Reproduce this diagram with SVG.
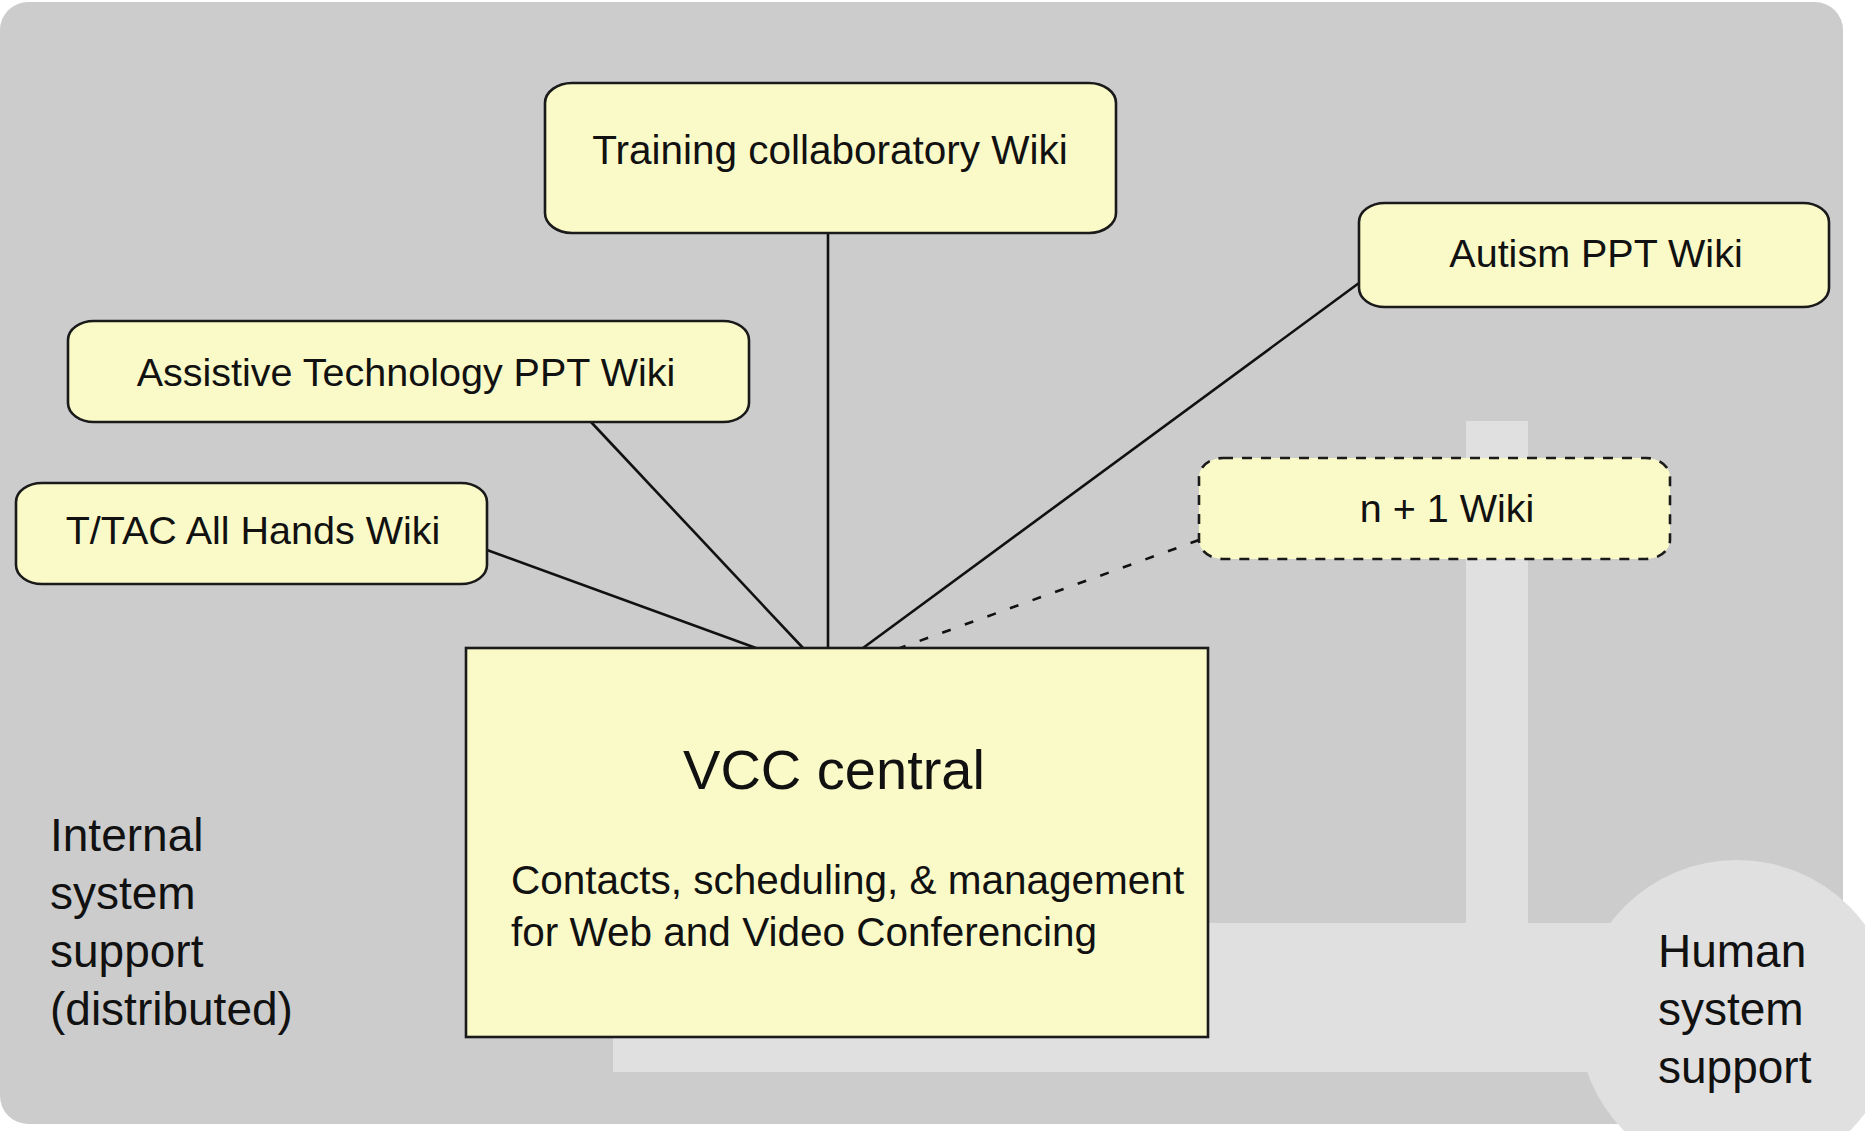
<svg xmlns="http://www.w3.org/2000/svg" width="1865" height="1131" viewBox="0 0 1865 1131">
  <style>
    .bg { fill: #cccccc; }
    .band { fill: #e0e0e0; }
    .wiki { fill: #fafac8; stroke: #1a1a1a; stroke-width: 2.6; }
    .wiki-new { fill: #fafac8; stroke: #1a1a1a; stroke-width: 2.6; stroke-dasharray: 10 9; }
    .central { fill: #fafac8; stroke: #1a1a1a; stroke-width: 2.6; }
    .link { stroke: #111111; stroke-width: 2.6; fill: none; }
    .link-planned { stroke: #111111; stroke-width: 2.6; fill: none; stroke-dasharray: 9 15; }
    text { font-family: "Liberation Sans", Arial, sans-serif; fill: #111111; }
    .label { font-size: 39.5px; text-anchor: middle; }
    .label-wide { font-size: 40.5px; text-anchor: middle; }
    .title { font-size: 56px; text-anchor: middle; }
    .desc { font-size: 40.5px; }
    .side { font-size: 46px; }
  </style>

  <!-- backdrop: internal system support area -->
  <rect class="bg" x="0" y="2" width="1843" height="1122" rx="28" ry="28"/>

  <!-- human support channels -->
  <g id="human-support">
    <rect class="band" x="1466" y="421" width="62" height="520"/>
    <rect class="band" x="613" y="923" width="1140" height="149"/>
    <circle class="band" cx="1737" cy="1019" r="159"/>
    <text class="side" x="1658" y="967">Human</text>
    <text class="side" x="1658" y="1025">system</text>
    <text class="side" x="1658" y="1083">support</text>
  </g>

  <g id="internal-support">
    <text class="side" x="50" y="851">Internal</text>
    <text class="side" x="50" y="909">system</text>
    <text class="side" x="50" y="967">support</text>
    <text class="side" x="50" y="1025">(distributed)</text>
  </g>

  <!-- links from each wiki to the central hub -->
  <g id="connectors">
    <line class="link" x1="828" y1="233" x2="828" y2="648"/>
    <line class="link" x1="591" y1="422" x2="803" y2="648"/>
    <line class="link" x1="487" y1="550" x2="756" y2="648"/>
    <line class="link" x1="1359" y1="283" x2="863" y2="648"/>
    <line class="link-planned" x1="1199" y1="540" x2="900" y2="648"/>
  </g>

  <g id="training-wiki">
    <rect class="wiki" x="545" y="83" width="571" height="150" rx="27" ry="20"/>
    <text class="label-wide" x="830" y="164">Training collaboratory Wiki</text>
  </g>

  <g id="autism-wiki">
    <rect class="wiki" x="1359" y="203" width="470" height="104" rx="26" ry="19"/>
    <text class="label" x="1596" y="267">Autism PPT Wiki</text>
  </g>

  <g id="assistive-wiki">
    <rect class="wiki" x="68" y="321" width="681" height="101" rx="26" ry="19"/>
    <text class="label" x="406" y="386">Assistive Technology PPT Wiki</text>
  </g>

  <g id="ttac-wiki">
    <rect class="wiki" x="16" y="483" width="471" height="101" rx="26" ry="19"/>
    <text class="label" x="253" y="544">T/TAC All Hands Wiki</text>
  </g>

  <g id="next-wiki">
    <rect class="wiki-new" x="1199" y="458" width="471" height="101" rx="24" ry="19"/>
    <text class="label" x="1447" y="522">n + 1 Wiki</text>
  </g>

  <g id="vcc-central">
    <rect class="central" x="466" y="648" width="742" height="389"/>
    <text class="title" x="834" y="789">VCC central</text>
    <text class="desc" x="511" y="894">Contacts, scheduling, &amp; management</text>
    <text class="desc" x="511" y="946">for Web and Video Conferencing</text>
  </g>
</svg>
